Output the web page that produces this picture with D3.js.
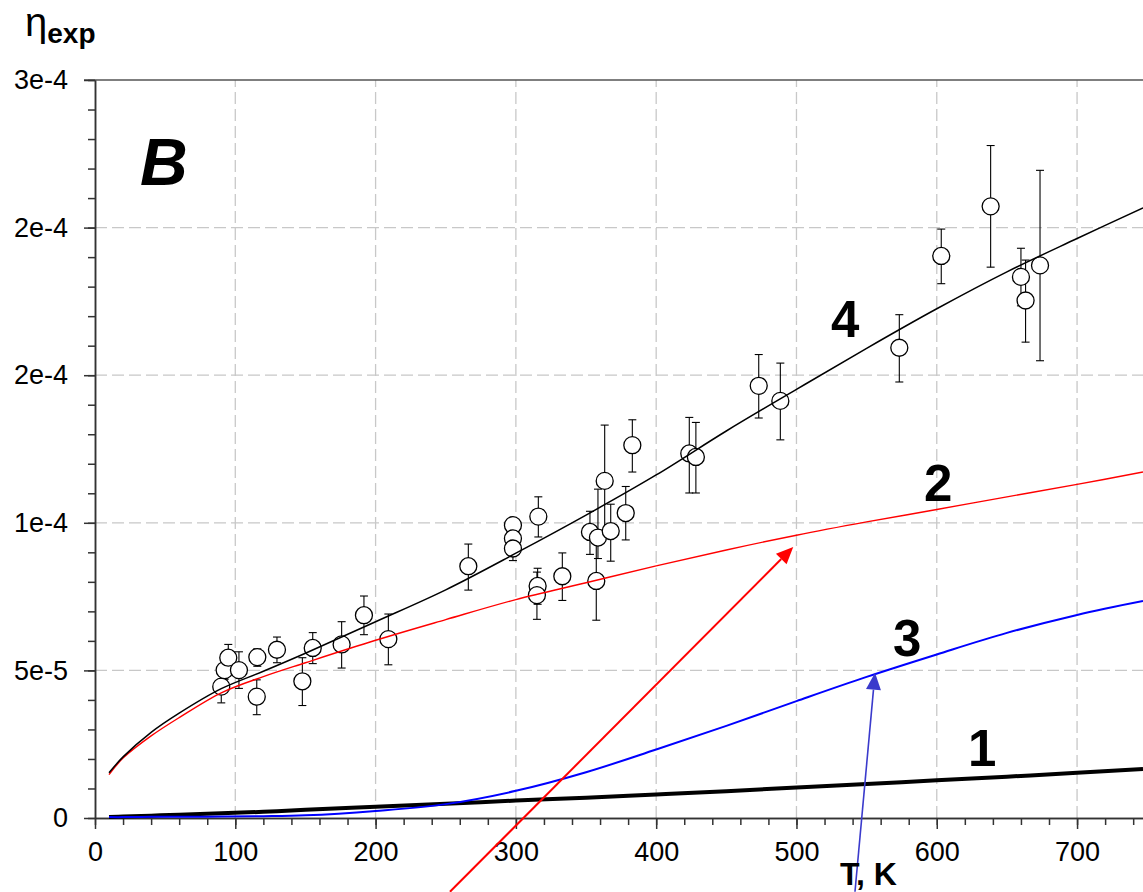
<!DOCTYPE html>
<html>
<head>
<meta charset="utf-8">
<script src="https://cdn.jsdelivr.net/npm/d3@7"></script>
<style>
body { margin: 0; background: #fff; }
svg text { font-family: "Liberation Sans", Arial, sans-serif; }
.grid line { stroke: #c8c8c8; stroke-width: 1.3; stroke-dasharray: 12,5; }
.axis path, .axis line { stroke: #333; stroke-width: 1.5; }
.axis text { font-size: 27px; fill: #000; }
</style>
</head>
<body>
<div id="chart"></div>
<script>
// measured points: T (K), eta (x1e-5), error bar low / high (x1e-5)
var pointT  = [90.0, 92.4, 95.0, 102.6, 115.3, 115.7, 129.7, 147.8, 155.2, 175.8, 191.7, 209.1,
               266.1, 297.9, 297.9, 297.9, 316.0, 315.5, 315.0, 333.1, 352.8, 358.5, 357.3, 363.3,
               367.6, 378.3, 383.0, 423.6, 428.3, 473.1, 488.5, 573.3, 603.2, 638.4, 660.0, 663.3, 673.6];
var pointV  = [4.45, 5.01, 5.43, 5.01, 4.11, 5.45, 5.70, 4.63, 5.76, 5.88, 6.87, 6.06,
               8.53, 9.92, 9.47, 9.13, 10.21, 7.86, 7.55, 8.19, 9.69, 9.50, 8.03, 11.42,
               9.72, 10.33, 12.63, 12.35, 12.23, 14.64, 14.13, 15.93, 19.04, 20.72, 18.33, 17.53, 18.72];
var pointLo = [3.90, 4.70, 5.00, 4.39, 3.50, 5.14, 5.26, 3.81, 5.23, 5.08, 6.21, 5.19,
               7.72, 9.60, 9.17, 8.72, 9.52, 7.24, 6.73, 7.37, 8.93, 8.79, 6.70, 9.56,
               8.70, 9.42, 11.72, 11.01, 11.01, 13.55, 12.81, 14.77, 18.10, 18.66, 17.35, 16.12, 15.49];
var pointHi = [5.00, 5.35, 5.88, 5.63, 4.68, 5.73, 6.13, 5.43, 6.28, 6.65, 7.52, 6.91,
               9.28, 10.18, 9.77, 9.45, 10.88, 8.46, 8.33, 8.98, 10.39, 11.14, 9.50, 13.31,
               10.63, 11.23, 13.49, 13.57, 13.40, 15.70, 15.41, 17.05, 19.95, 22.78, 19.30, 18.90, 21.94];

// model curves (x1e-5)
var curveT = [10, 20, 40, 60, 90, 120, 150, 200, 250, 300, 350, 400, 450, 500, 550, 600, 650, 700, 747];
var curve1 = [0.03, 0.05, 0.08, 0.11, 0.16, 0.21, 0.28, 0.38, 0.48, 0.59, 0.69, 0.80, 0.91, 1.03, 1.15, 1.28, 1.40, 1.53, 1.66];
var curve2 = [1.47, 2.03, 2.78, 3.40, 4.24, 4.79, 5.26, 6.02, 6.72, 7.40, 7.97, 8.54, 9.08, 9.58, 10.03, 10.45, 10.88, 11.30, 11.72];
var curve3 = [0.03, 0.03, 0.04, 0.04, 0.05, 0.06, 0.09, 0.24, 0.47, 0.92, 1.55, 2.32, 3.12, 3.96, 4.78, 5.54, 6.27, 6.88, 7.35];
var curve4 = [1.53, 2.07, 2.90, 3.55, 4.38, 4.97, 5.58, 6.65, 7.73, 8.97, 10.26, 11.62, 13.11, 14.52, 15.91, 17.25, 18.50, 19.63, 20.67];

var xTicks = [0, 100, 200, 300, 400, 500, 600, 700];
var yTicks = [0, 5, 10, 15, 20, 25];
var yTickLabels = ["0", "5e-5", "1e-4", "2e-4", "2e-4", "3e-4"];

// curve numbers (T, eta at baseline)
var labelText = ["4", "2", "3", "1"];
var labelT = [524.6, 590.9, 568.8, 622.2];
var labelV = [16.29, 10.73, 5.48, 1.75];

// arrows: from -> to, in T / eta
var arrowFromT = [253.0, 541.7];
var arrowFromV = [-2.50, -2.50];
var arrowToT = [497.7, 556.0];
var arrowToV = [9.18, 4.92];
var arrowColor = ["#ff0000", "#3a3acc"];

var width = 1143, height = 892;
var margin = { top: 80, right: 0, bottom: 74, left: 95 };

var svg = d3.select("#chart").append("svg")
    .attr("width", width)
    .attr("height", height);

var x = d3.scaleLinear().domain([0, 747]).range([margin.left, width - margin.right]);
var y = d3.scaleLinear().domain([0, 25]).range([height - margin.bottom, margin.top]);

// grid
var grid = svg.append("g").attr("class", "grid");
grid.selectAll(".gx").data(xTicks.slice(1)).enter().append("line")
    .attr("x1", d => x(d)).attr("x2", d => x(d))
    .attr("y1", y(0)).attr("y2", y(25));
grid.selectAll(".gy").data(yTicks.slice(1, 5)).enter().append("line")
    .attr("x1", x(0)).attr("x2", width)
    .attr("y1", d => y(d)).attr("y2", d => y(d));

// top frame line
svg.append("line")
    .attr("x1", x(0) - 11).attr("x2", width)
    .attr("y1", y(25)).attr("y2", y(25))
    .style("stroke", "#555").style("stroke-width", 1.5);

// axes
var minorX = d3.range(0, 748, 20);
var minorY = d3.range(0, 26, 1);

svg.append("g").attr("class", "axis")
    .attr("transform", "translate(0," + y(0) + ")")
    .call(d3.axisBottom(x).tickValues(minorX).tickSize(7).tickSizeOuter(0).tickFormat(""));
svg.append("g").attr("class", "axis")
    .attr("transform", "translate(0," + y(0) + ")")
    .call(d3.axisBottom(x).tickValues(xTicks).tickSize(11).tickSizeOuter(0).tickPadding(13))
    .call(g => g.selectAll("text").attr("dy", "0.72em"));

svg.append("g").attr("class", "axis")
    .attr("transform", "translate(" + x(0) + ",0)")
    .call(d3.axisLeft(y).tickValues(minorY).tickSize(7).tickSizeOuter(0).tickFormat(""));
svg.append("g").attr("class", "axis")
    .attr("transform", "translate(" + x(0) + ",0)")
    .call(d3.axisLeft(y).tickValues(yTicks).tickSize(11).tickSizeOuter(0).tickPadding(16)
        .tickFormat((d, i) => yTickLabels[i]));

// error bars
var pts = pointT.map((t, i) => ({ t: t, v: pointV[i], lo: pointLo[i], hi: pointHi[i] }));
var eb = svg.append("g").attr("class", "errbars")
    .style("stroke", "#000").style("stroke-width", 1.1);
eb.selectAll(".ev").data(pts).enter().append("line")
    .attr("x1", d => x(d.t)).attr("x2", d => x(d.t))
    .attr("y1", d => y(d.lo)).attr("y2", d => y(d.hi));
eb.selectAll(".ct").data(pts).enter().append("line")
    .attr("x1", d => x(d.t) - 4).attr("x2", d => x(d.t) + 4)
    .attr("y1", d => y(d.hi)).attr("y2", d => y(d.hi));
eb.selectAll(".cb").data(pts).enter().append("line")
    .attr("x1", d => x(d.t) - 4).attr("x2", d => x(d.t) + 4)
    .attr("y1", d => y(d.lo)).attr("y2", d => y(d.lo));

svg.append("g").selectAll("circle").data(pts).enter().append("circle")
    .attr("cx", d => x(d.t))
    .attr("cy", d => y(d.v))
    .attr("r", 8.5)
    .style("fill", "#fff")
    .style("stroke", "#000")
    .style("stroke-width", 1.3);

// curves
var line = d3.line()
    .x(d => x(d[0]))
    .y(d => y(d[1]))
    .curve(d3.curveCatmullRom.alpha(0.5));

var curves = [
    { vals: curve1, color: "#000", w: 4 },
    { vals: curve3, color: "#0000ff", w: 2 },
    { vals: curve2, color: "#ff0000", w: 1.4 },
    { vals: curve4, color: "#000", w: 1.5 }
];
svg.append("g").selectAll("path").data(curves).enter().append("path")
    .attr("d", c => line(curveT.map((t, i) => [t, c.vals[i]])))
    .style("fill", "none")
    .style("stroke", c => c.color)
    .style("stroke-width", c => c.w);

// arrows
arrowFromT.forEach(function (t, i) {
    var x1 = x(t), y1 = y(arrowFromV[i]), x2 = x(arrowToT[i]), y2 = y(arrowToV[i]);
    var a = Math.atan2(y2 - y1, x2 - x1);
    var len = 17, hw = 7.5;
    var bx = x2 - len * Math.cos(a), by = y2 - len * Math.sin(a);
    svg.append("line")
        .attr("x1", x1).attr("y1", y1).attr("x2", bx).attr("y2", by)
        .style("stroke", arrowColor[i]).style("stroke-width", i === 0 ? 2 : 1.6);
    svg.append("path")
        .attr("d", "M" + x2 + "," + y2 +
            "L" + (bx + hw * Math.sin(a)) + "," + (by - hw * Math.cos(a)) +
            "L" + (bx - hw * Math.sin(a)) + "," + (by + hw * Math.cos(a)) + "Z")
        .style("fill", arrowColor[i]);
});

// curve numbers
svg.append("g").selectAll("text").data(labelText).enter().append("text")
    .attr("x", (d, i) => x(labelT[i]))
    .attr("y", (d, i) => y(labelV[i]))
    .style("font-size", "51px")
    .style("font-weight", "bold")
    .text(d => d);

// panel letter
svg.append("text")
    .attr("x", 140).attr("y", 185)
    .style("font-size", "66px")
    .style("font-weight", "bold")
    .style("font-style", "italic")
    .text("B");

// axis titles
var yTitle = svg.append("text").attr("x", 25).attr("y", 36);
yTitle.append("tspan").style("font-size", "40px").text("η");
yTitle.append("tspan").attr("dy", 7).style("font-size", "28px").style("font-weight", "bold").text("exp");

svg.append("text")
    .attr("x", 840).attr("y", 885)
    .style("font-size", "32px")
    .style("font-weight", "bold")
    .text("T, K");
</script>
</body>
</html>
